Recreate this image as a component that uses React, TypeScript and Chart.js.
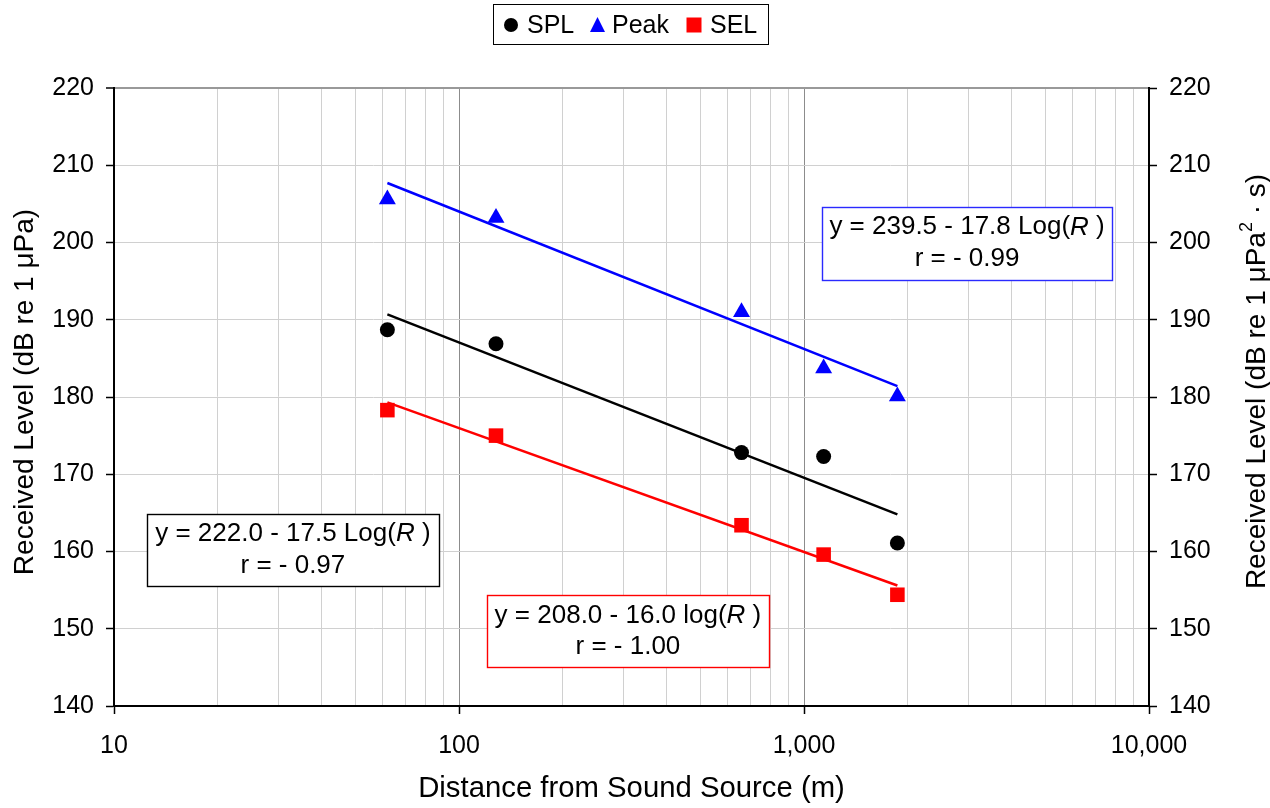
import React, { useEffect, useRef } from "react";
import { Chart, registerables } from "chart.js";

Chart.register(...registerables);

const FONT = "'Liberation Sans', Arial, sans-serif";

// ---- data ----
const distances = [62, 128, 659, 1140, 1865];
const splValues = [188.7, 186.9, 172.8, 172.3, 161.1];
const peakValues = [205.6, 203.2, 191.0, 183.7, 180.1];
const selValues = [178.3, 175.0, 163.4, 159.6, 154.4];

const fitRange = [62, 1865];
const splFit = [190.7, 164.8];
const peakFit = [207.7, 181.4];
const selFit = [179.3, 155.6];

const xTickValues = [
  10, 20, 30, 40, 50, 60, 70, 80, 90,
  100, 200, 300, 400, 500, 600, 700, 800, 900,
  1000, 2000, 3000, 4000, 5000, 6000, 7000, 8000, 9000, 10000,
];
const xMajorTicks = [10, 100, 1000, 10000];
const yMin = 140;
const yMax = 220;
const yStep = 10;

const seriesLabels = ["SPL", "Peak", "SEL"];
const seriesColors = ["#000000", "#0000ff", "#ff0000"];

const xTitle = "Distance from Sound Source (m)";
const yTitleLeft = "Received Level (dB re 1 \u03bcPa)";
const yTitleRight = ["Received Level (dB re 1 \u03bcPa", "2", " \u00b7 s)"];

type Seg = [string, boolean];
const annotations: { lines: Seg[][]; x: number; y: number; w: number; h: number; color: string }[] = [
  {
    lines: [
      [["y = 239.5 - 17.8 Log(", false], ["R", true], [" )", false]],
      [["r = - 0.99", false]],
    ],
    x: 2969, y: 199.9, w: 290, h: 73, color: "#2a2aff",
  },
  {
    lines: [
      [["y = 222.0 - 17.5 Log(", false], ["R", true], [" )", false]],
      [["r = - 0.97", false]],
    ],
    x: 33, y: 160.2, w: 292, h: 72, color: "#000000",
  },
  {
    lines: [
      [["y = 208.0 - 16.0 log(", false], ["R", true], [" )", false]],
      [["r = - 1.00", false]],
    ],
    x: 308.8, y: 149.65, w: 282, h: 72, color: "#ff0000",
  },
];

function drawRich(ctx: CanvasRenderingContext2D, segs: Seg[], cx: number, cy: number, size: number) {
  const widths = segs.map(([t, it]) => {
    ctx.font = `${it ? "italic " : ""}${size}px ${FONT}`;
    return ctx.measureText(t).width;
  });
  const total = widths.reduce((a, b) => a + b, 0);
  let x = cx - total / 2;
  ctx.textAlign = "left";
  ctx.textBaseline = "middle";
  segs.forEach(([t, it], i) => {
    ctx.font = `${it ? "italic " : ""}${size}px ${FONT}`;
    ctx.fillText(t, x, cy);
    x += widths[i];
  });
}

function drawMarker(ctx: CanvasRenderingContext2D, style: string, x: number, y: number, color: string) {
  ctx.fillStyle = color;
  ctx.beginPath();
  if (style === "circle") {
    ctx.arc(x, y, 7, 0, Math.PI * 2);
  } else if (style === "triangle") {
    ctx.moveTo(x, y - 8);
    ctx.lineTo(x + 7.5, y + 7);
    ctx.lineTo(x - 7.5, y + 7);
    ctx.closePath();
  } else {
    ctx.rect(x - 7.5, y - 7.5, 15, 15);
  }
  ctx.fill();
}

const overlayPlugin = {
  id: "overlay",
  afterDraw(chart: any) {
    const ctx: CanvasRenderingContext2D = chart.ctx;
    const xs = chart.scales.x;
    const ys = chart.scales.y;
    ctx.save();

    annotations.forEach((a) => {
      const cx = xs.getPixelForValue(a.x);
      const cy = ys.getPixelForValue(a.y);
      const l = Math.round(cx - a.w / 2) + 0.5;
      const t = Math.round(cy - a.h / 2) + 0.5;
      ctx.fillStyle = "#ffffff";
      ctx.fillRect(l, t, a.w, a.h);
      ctx.strokeStyle = a.color;
      ctx.lineWidth = 1.4;
      ctx.strokeRect(l, t, a.w, a.h);
      ctx.fillStyle = "#000000";
      drawRich(ctx, a.lines[0], cx, cy - 16, 26);
      drawRich(ctx, a.lines[1], cx, cy + 15.5, 26);
    });

    // legend
    ctx.fillStyle = "#ffffff";
    ctx.fillRect(493.5, 4.5, 275, 40);
    ctx.strokeStyle = "#000000";
    ctx.lineWidth = 1;
    ctx.strokeRect(493.5, 4.5, 275, 40);
    const styles = ["circle", "triangle", "rect"];
    const markerX = [511, 597.5, 694];
    const textX = [527, 612, 710];
    seriesLabels.forEach((lab, i) => {
      drawMarker(ctx, styles[i], markerX[i], 25, seriesColors[i]);
      ctx.fillStyle = "#000000";
      ctx.font = `25px ${FONT}`;
      ctx.textAlign = "left";
      ctx.textBaseline = "middle";
      ctx.fillText(lab, textX[i], 26);
    });

    // axis titles
    ctx.fillStyle = "#000000";
    ctx.font = `29.3px ${FONT}`;
    ctx.textAlign = "center";
    ctx.textBaseline = "middle";
    ctx.fillText(xTitle, (chart.chartArea.left + chart.chartArea.right) / 2, 789);

    ctx.save();
    ctx.translate(25, 392);
    ctx.rotate(-Math.PI / 2);
    ctx.font = `28px ${FONT}`;
    ctx.fillText(yTitleLeft, 0, 0);
    ctx.restore();

    ctx.save();
    ctx.translate(1257, 381.5);
    ctx.rotate(-Math.PI / 2);
    ctx.font = `28px ${FONT}`;
    const w0 = ctx.measureText(yTitleRight[0]).width;
    const w2 = ctx.measureText(yTitleRight[2]).width;
    ctx.font = `18px ${FONT}`;
    const w1 = ctx.measureText(yTitleRight[1]).width;
    let x = -(w0 + w1 + w2) / 2;
    ctx.textAlign = "left";
    ctx.font = `28px ${FONT}`;
    ctx.fillText(yTitleRight[0], x, 0);
    x += w0;
    ctx.font = `18px ${FONT}`;
    ctx.fillText(yTitleRight[1], x, -10);
    x += w1;
    ctx.font = `28px ${FONT}`;
    ctx.fillText(yTitleRight[2], x, 0);
    ctx.restore();

    ctx.restore();
  },
};

export default function App() {
  const ref = useRef<HTMLCanvasElement>(null);

  useEffect(() => {
    const pts = (vals: number[]) => distances.map((x, i) => ({ x, y: vals[i] }));
    const fit = (vals: number[]) => fitRange.map((x, i) => ({ x, y: vals[i] }));
    const isMajor = (v: number) => xMajorTicks.includes(v);

    const chart = new Chart(ref.current as HTMLCanvasElement, {
      type: "scatter",
      data: {
        datasets: [
          { label: "SPL fit", data: fit(splFit), showLine: true, pointRadius: 0, borderColor: seriesColors[0], borderWidth: 2.5 },
          { label: "Peak fit", data: fit(peakFit), showLine: true, pointRadius: 0, borderColor: seriesColors[1], borderWidth: 2.5 },
          { label: "SEL fit", data: fit(selFit), showLine: true, pointRadius: 0, borderColor: seriesColors[2], borderWidth: 2.5 },
          { label: seriesLabels[0], data: pts(splValues), pointStyle: "circle", pointRadius: 7.5, backgroundColor: seriesColors[0], borderColor: seriesColors[0], borderWidth: 0 },
          { label: seriesLabels[1], data: pts(peakValues), pointStyle: "triangle", pointRadius: 9.8, backgroundColor: seriesColors[1], borderColor: seriesColors[1], borderWidth: 0 },
          { label: seriesLabels[2], data: pts(selValues), pointStyle: "rect", pointRadius: 10.3, backgroundColor: seriesColors[2], borderColor: seriesColors[2], borderWidth: 0 },
        ],
      } as any,
      options: {
        responsive: false,
        animation: false,
        devicePixelRatio: 1,
        layout: { padding: { top: 88, left: 0, right: 0, bottom: 0 } },
        plugins: { legend: { display: false }, tooltip: { enabled: false } },
        scales: {
          x: {
            type: "logarithmic",
            min: 10,
            max: 10000,
            afterBuildTicks: (scale: any) => {
              scale.ticks = xTickValues.map((v) => ({ value: v }));
            },
            afterFit: (scale: any) => {
              scale.height = 102;
            },
            ticks: {
              autoSkip: false,
              maxRotation: 0,
              padding: 17,
              color: "#000000",
              font: { family: FONT, size: 25 },
              callback: (v: any) => (isMajor(Number(v)) ? Number(v).toLocaleString("en-US") : ""),
            },
            grid: {
              color: (c: any) => (isMajor(c.tick?.value) ? "#8c8c8c" : "#d0d0d0"),
              lineWidth: 1,
              tickLength: 8,
              tickWidth: 1.5,
              tickColor: (c: any) => (isMajor(c.tick?.value) ? "#000000" : "rgba(0,0,0,0)"),
            },
            border: { display: true, color: "#000000", width: 2 },
          },
          y: {
            position: "left",
            min: yMin,
            max: yMax,
            afterFit: (scale: any) => {
              scale.width = 114;
            },
            ticks: {
              stepSize: yStep,
              padding: 12,
              color: "#000000",
              font: { family: FONT, size: 25 },
            },
            grid: {
              color: (c: any) => (c.tick?.value === yMax ? "#999999" : "#d0d0d0"),
              lineWidth: (c: any) => (c.tick?.value === yMax ? 2 : 1),
              tickLength: 8,
              tickWidth: 1.5,
              tickColor: "#000000",
            },
            border: { display: true, color: "#000000", width: 2 },
          },
          y2: {
            position: "right",
            min: yMin,
            max: yMax,
            afterFit: (scale: any) => {
              scale.width = 121;
            },
            ticks: {
              stepSize: yStep,
              padding: 12,
              color: "#000000",
              font: { family: FONT, size: 25 },
            },
            grid: {
              drawOnChartArea: false,
              tickLength: 8,
              tickWidth: 1.5,
              tickColor: "#000000",
            },
            border: { display: true, color: "#000000", width: 2 },
          },
        },
      } as any,
      plugins: [overlayPlugin],
    });
    return () => chart.destroy();
  }, []);

  return (
    <div style={{ position: "fixed", left: 0, top: 0, width: 1270, height: 808, background: "#ffffff" }}>
      <canvas ref={ref} width={1270} height={808} style={{ display: "block", width: 1270, height: 808 }} />
    </div>
  );
}
